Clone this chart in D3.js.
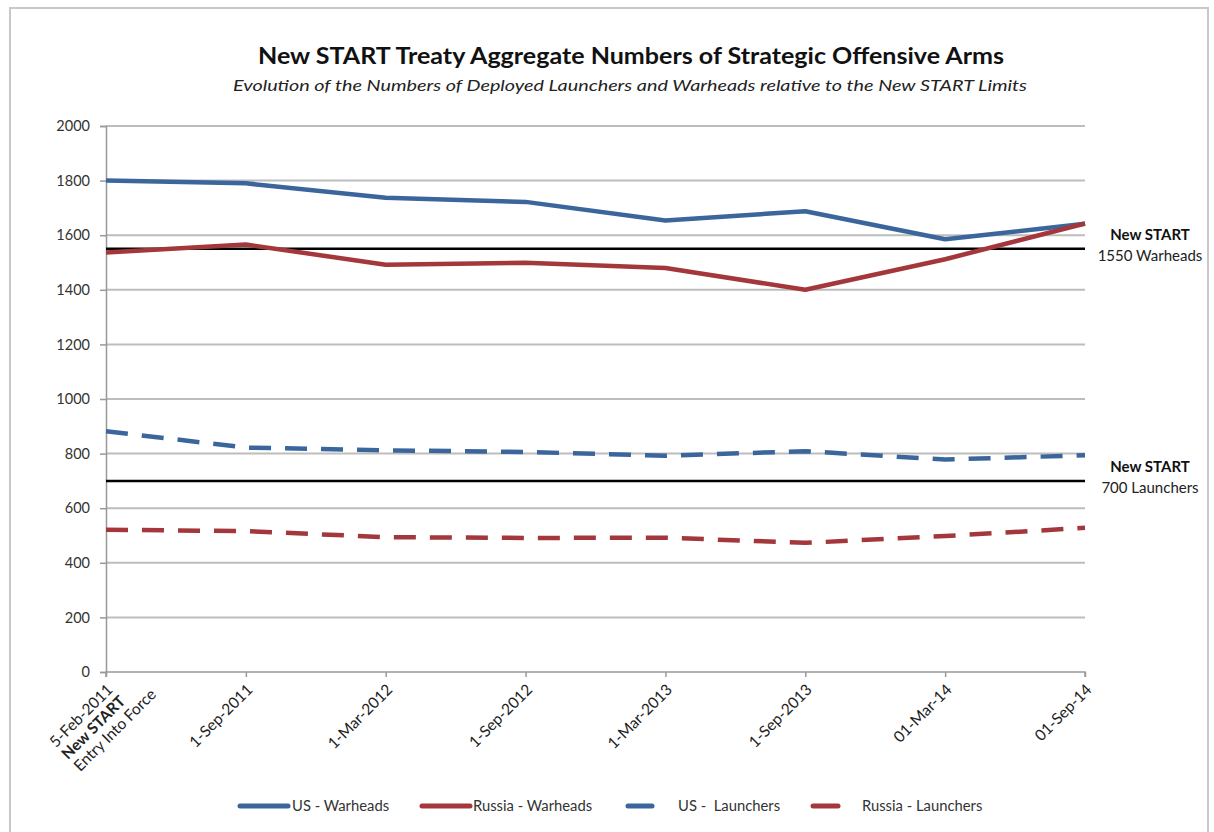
<!DOCTYPE html>
<html><head><meta charset="utf-8">
<script src="https://cdn.jsdelivr.net/npm/d3@7"></script>
<style>body{margin:0;background:#fff}svg{display:block}</style>
</head><body>
<svg id="c" width="1214" height="832" font-family="Lato, 'Open Sans', sans-serif"></svg>
<script>
const categories = ["5-Feb-2011","1-Sep-2011","1-Mar-2012","1-Sep-2012","1-Mar-2013","1-Sep-2013","01-Mar-14","01-Sep-14"];
const usWarheads = [1800,1790,1737,1722,1654,1688,1585,1642];
const ruWarheads = [1537,1566,1492,1499,1480,1400,1512,1643];
const usLaunchers = [882,822,812,806,792,809,778,794];
const ruLaunchers = [521,516,494,491,492,473,498,528];
const yTicks = [0,200,400,600,800,1000,1200,1400,1600,1800,2000];
const limits = [{v:1550, l1:"New START", l2:"1550 Warheads"},{v:700, l1:"New START", l2:"700 Launchers"}];
const seriesDefs = [
  {name:"US - Warheads", data:usWarheads, color:"#3a669c", dash:null},
  {name:"Russia - Warheads", data:ruWarheads, color:"#a3373b", dash:null},
  {name:"US -  Launchers", data:usLaunchers, color:"#3a669c", dash:"22,14"},
  {name:"Russia - Launchers", data:ruLaunchers, color:"#a3373b", dash:"22,14"}
];

const svg = d3.select("#c");
svg.append("rect").attr("x",10).attr("y",8).attr("width",1198).attr("height",830).attr("fill","#fff").attr("stroke","#c8c8c8").attr("stroke-width",2);

const L=106, R=1085, T=126, B=672;
const x = d3.scalePoint().domain(categories).range([L,R]);
const y = d3.scaleLinear().domain([0,2000]).range([B,T]);

// title
svg.append("text").attr("x",631).attr("y",64).attr("text-anchor","middle").attr("font-size",22).attr("font-weight","bold").attr("fill","#111").attr("textLength",746).attr("lengthAdjust","spacingAndGlyphs").text("New START Treaty Aggregate Numbers of Strategic Offensive Arms");
svg.append("text").attr("x",630).attr("y",91).attr("text-anchor","middle").attr("font-size",15).attr("font-style","italic").attr("fill","#222").attr("textLength",794).attr("lengthAdjust","spacingAndGlyphs").text("Evolution of the Numbers of Deployed Launchers and Warheads relative to the New START Limits");

// gridlines
svg.append("g").selectAll("line").data(yTicks.filter(d=>d>0)).join("line")
  .attr("x1",L).attr("x2",R).attr("y1",d=>y(d)).attr("y2",d=>y(d))
  .attr("stroke","#bdbdbd").attr("stroke-width",2);

// y axis
const ya = svg.append("g").attr("transform",`translate(${L},0)`).call(d3.axisLeft(y).tickValues(yTicks).tickSize(6).tickPadding(10).tickFormat(d3.format("d")));
ya.attr("font-family",null);
ya.select(".domain").attr("stroke","#999").attr("stroke-width",1.5);
ya.selectAll(".tick line").attr("stroke","#999").attr("stroke-width",1.5);
ya.selectAll(".tick text").attr("font-size",14.5).attr("fill","#333");

// x axis
const xa = svg.append("g").attr("transform",`translate(0,${B})`).call(d3.axisBottom(x).tickSize(5).tickFormat(""));
xa.select(".domain").attr("stroke","#999").attr("stroke-width",1.5).attr("d",`M${L},5V0H${R}V5`);
xa.selectAll(".tick line").attr("stroke","#999").attr("stroke-width",1.5);
const xl = svg.append("g");
categories.forEach((c,i)=>{
  const g = xl.append("g").attr("transform",`translate(${x(c)+1},${B+12}) rotate(-45)`);
  if (i===0) {
    const lines = [[c,"normal"],["New START","bold"],["Entry Into Force","normal"]];
    const ts = lines.map((ln,j)=> g.append("text").attr("y",j*17+4).attr("dy","0.35em")
       .attr("font-size",15.5).attr("font-weight",ln[1]).attr("fill","#222").attr("text-anchor","start").text(ln[0]));
    const w = ts[0].node().getComputedTextLength();
    ts.forEach(t=>t.attr("x",-w));
  } else {
    g.append("text").attr("x",0).attr("y",4).attr("text-anchor","end").attr("dy","0.35em")
     .attr("font-size",15.5).attr("fill","#222").text(c);
  }
});

// limit lines
limits.forEach(l=>{
  svg.append("line").attr("x1",L).attr("x2",R).attr("y1",y(l.v)).attr("y2",y(l.v)).attr("stroke","#000").attr("stroke-width",2.5);
  svg.append("text").attr("x",1150).attr("y",y(l.v)-9).attr("text-anchor","middle").attr("font-size",15).attr("font-weight","bold").attr("fill","#111").text(l.l1);
  svg.append("text").attr("x",1150).attr("y",y(l.v)+12).attr("text-anchor","middle").attr("font-size",15).attr("fill","#222").text(l.l2);
});

// series
const line = d3.line().x((d,i)=>x(categories[i])).y(d=>y(d));
seriesDefs.forEach(s=>{
  svg.append("path").datum(s.data).attr("d",line).attr("fill","none").attr("stroke",s.color).attr("stroke-width",4.5)
    .attr("stroke-linejoin","round").attr("stroke-dasharray",s.dash);
});

// legend
const legPos = [{lx:240,lw:48,tx:292},{lx:422,lw:48,tx:473},{lx:628,lw:24,tx:678},{lx:813,lw:25,tx:862}];
seriesDefs.forEach((s,i)=>{
  const p = legPos[i];
  svg.append("line").attr("x1",p.lx).attr("x2",p.lx+p.lw).attr("y1",806).attr("y2",806).attr("stroke",s.color).attr("stroke-width",5).attr("stroke-linecap","round");
  svg.append("text").attr("x",p.tx).attr("y",806).attr("dy","0.35em").attr("font-size",14.8).attr("fill","#333").style("white-space","pre").text(s.name);
});
</script>
</body></html>
